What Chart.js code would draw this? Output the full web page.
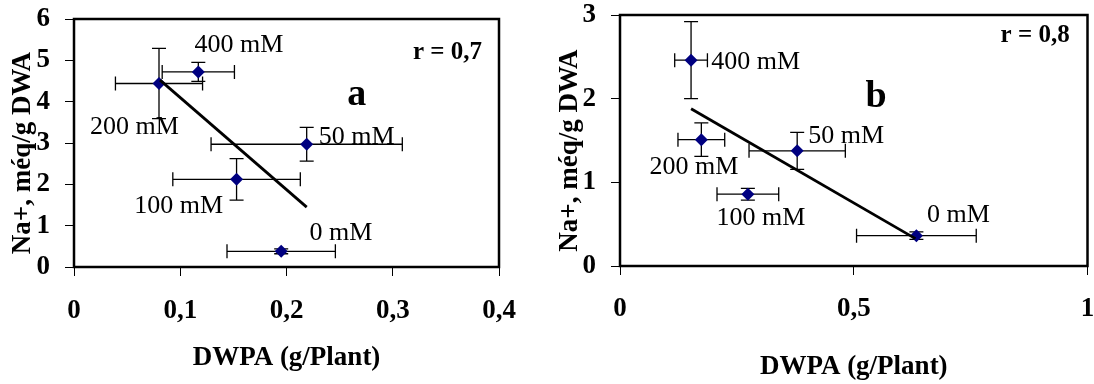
<!DOCTYPE html>
<html>
<head>
<meta charset="utf-8">
<script src="https://cdn.jsdelivr.net/npm/chart.js@4.4.1/dist/chart.umd.min.js"></script>
<style>
  html, body { margin: 0; padding: 0; background: #fff; }
  .wrap { position: relative; width: 1094px; height: 384px; overflow: hidden; }
  #chartA { position: absolute; left: 0; top: 0; }
  #chartB { position: absolute; left: 540px; top: 0; }
</style>
</head>
<body>
<div class="wrap">
  <canvas id="chartA" width="540" height="384"></canvas>
  <canvas id="chartB" width="554" height="384"></canvas>
</div>
<script>
// ===== data
const treatments = ['0 mM', '50 mM', '100 mM', '200 mM', '400 mM'];

// panel a
const dwpaA    = [0.195, 0.219, 0.153, 0.080, 0.117];
const dwpaErrA = [0.051, 0.090, 0.060, 0.041, 0.034];
const naA      = [0.38, 2.97, 2.12, 4.44, 4.72];
const naErrA   = [0.06, 0.41, 0.50, 0.85, 0.23];
const trendXA  = [0.081, 0.219];
const trendYA  = [4.52, 1.45];
const xTicksA  = ['0', '0,1', '0,2', '0,3', '0,4'];
const yTicksA  = ['0', '1', '2', '3', '4', '5', '6'];

// panel b
const dwpaB    = [0.634, 0.379, 0.2735, 0.174, 0.152];
const dwpaErrB = [0.128, 0.103, 0.066, 0.050, 0.035];
const naB      = [0.363, 1.376, 0.858, 1.51, 2.46];
const naErrB   = [0.045, 0.22, 0.07, 0.20, 0.46];
const trendXB  = [0.152, 0.632];
const trendYB  = [1.879, 0.327];
const xTicksB  = ['0', '0,5', '1'];
const yTicksB  = ['0', '1', '2', '3'];

const SERIF = "'Liberation Serif', 'Times New Roman', serif";

// where the treatment labels sit (data units), same order as treatments
const labelPosA = [[0.2513, 0.83], [0.266, 3.15], [0.0985, 1.48], [0.0569, 3.39], [0.1553, 5.37]];
const labelPosB = [[0.724, 0.606], [0.4838, 1.551], [0.3015, 0.566], [0.158, 1.184], [0.290, 2.44]];

// error bars + frame + text, drawn with the chart's own scales
function panelPlugin(p) {
  return {
    id: 'panel',
    beforeDatasetsDraw(chart) {
      const { ctx, scales: { x, y } } = chart;
      const cap = 7;
      ctx.save();
      ctx.strokeStyle = '#000';
      ctx.lineWidth = 1.3;
      p.xs.forEach((xv, i) => {
        const yv = p.ys[i];
        const px = x.getPixelForValue(xv), py = y.getPixelForValue(yv);
        const x1 = x.getPixelForValue(xv - p.xErr[i]), x2 = x.getPixelForValue(xv + p.xErr[i]);
        const y1 = y.getPixelForValue(yv - p.yErr[i]), y2 = y.getPixelForValue(yv + p.yErr[i]);
        ctx.beginPath();
        ctx.moveTo(x1, py); ctx.lineTo(x2, py);
        ctx.moveTo(x1, py - cap); ctx.lineTo(x1, py + cap);
        ctx.moveTo(x2, py - cap); ctx.lineTo(x2, py + cap);
        ctx.moveTo(px, y1); ctx.lineTo(px, y2);
        ctx.moveTo(px - cap, y1); ctx.lineTo(px + cap, y1);
        ctx.moveTo(px - cap, y2); ctx.lineTo(px + cap, y2);
        ctx.stroke();
      });
      ctx.restore();
    },
    afterDatasetsDraw(chart) {
      const { ctx, chartArea: a, scales: { x, y } } = chart;
      ctx.save();
      ctx.strokeStyle = '#000';
      ctx.lineWidth = 2.5;
      ctx.strokeRect(a.left, a.top, a.right - a.left, a.bottom - a.top);

      ctx.fillStyle = '#000';
      ctx.textAlign = 'center';
      ctx.textBaseline = 'middle';
      ctx.font = `26px ${SERIF}`;
      treatments.forEach((t, i) => {
        const [lx, ly] = p.labelPos[i];
        ctx.fillText(t, x.getPixelForValue(lx), y.getPixelForValue(ly));
      });
      ctx.font = `bold 25px ${SERIF}`;
      ctx.fillText(p.rText, x.getPixelForValue(p.rPos[0]), y.getPixelForValue(p.rPos[1]));
      ctx.font = `bold 38px ${SERIF}`;
      ctx.fillText(p.tag, x.getPixelForValue(p.tagPos[0]), y.getPixelForValue(p.tagPos[1]));
      ctx.restore();
    }
  };
}

function makePanel(canvas, p) {
  const tickFont = { family: SERIF, size: 27, weight: 'bold' };
  const titleFont = { family: SERIF, size: 27, weight: 'bold' };
  const grid = { drawOnChartArea: false, drawTicks: true, tickLength: 9, color: '#000', lineWidth: 1 };

  new Chart(canvas.getContext('2d'), {
    data: {
      datasets: [
        {
          type: 'line',
          data: p.trendX.map((v, i) => ({ x: v, y: p.trendY[i] })),
          borderColor: '#000',
          borderWidth: 2.8,
          pointRadius: 0,
          fill: false,
          order: 0
        },
        {
          type: 'scatter',
          data: p.xs.map((v, i) => ({ x: v, y: p.ys[i] })),
          pointStyle: 'rectRot',
          pointRadius: 6.5,
          backgroundColor: '#000080',
          borderColor: '#000080',
          borderWidth: 0,
          order: 1
        }
      ]
    },
    options: {
      responsive: false,
      animation: false,
      layout: { padding: p.padding },
      plugins: { legend: { display: false }, tooltip: { enabled: false } },
      scales: {
        x: {
          type: 'linear',
          min: 0, max: p.xMax,
          border: { display: false },
          grid,
          afterFit: s => { s.height = p.xAxisH; s.paddingLeft = 0; s.paddingRight = 0; },
          ticks: {
            stepSize: p.xStep, color: '#000', font: tickFont, padding: p.xTickPad,
            maxRotation: 0, autoSkip: false,
            callback: (v, i) => p.xTicks[i]
          },
          title: { display: true, text: 'DWPA (g/Plant)', color: '#000', font: titleFont,
                   padding: { top: 0, bottom: p.xTitlePad } }
        },
        y: {
          type: 'linear',
          min: 0, max: p.yMax,
          border: { display: false },
          grid,
          afterFit: s => { s.width = p.yAxisW; s.paddingTop = 0; s.paddingBottom = 0; },
          ticks: {
            stepSize: 1, color: '#000', font: tickFont, padding: p.yTickPad,
            callback: (v, i) => p.yTicks[i]
          },
          // trailing spaces nudge the centred title a little lower, as in the original
          title: { display: true, text: 'Na+, méq/g DWA   ', color: '#000', font: titleFont,
                   padding: { top: p.yTitlePad, bottom: 0 } }
        }
      }
    },
    plugins: [panelPlugin(p)]
  });
}

makePanel(document.getElementById('chartA'), {
  xs: dwpaA, ys: naA, xErr: dwpaErrA, yErr: naErrA,
  trendX: trendXA, trendY: trendYA,
  xTicks: xTicksA, yTicks: yTicksA, xMax: 0.4, xStep: 0.1, yMax: 6,
  labelPos: labelPosA, rText: 'r = 0,7', rPos: [0.3515, 5.2], tag: 'a', tagPos: [0.266, 4.16],
  padding: { top: 19, right: 41, bottom: 0, left: 0 },
  xAxisH: 117, yAxisW: 74, xTickPad: 19, yTickPad: 15, xTitlePad: 10, yTitlePad: 7
});

makePanel(document.getElementById('chartB'), {
  xs: dwpaB, ys: naB, xErr: dwpaErrB, yErr: naErrB,
  trendX: trendXB, trendY: trendYB,
  xTicks: xTicksB, yTicks: yTicksB, xMax: 1, xStep: 0.5, yMax: 3,
  labelPos: labelPosB, rText: 'r = 0,8', rPos: [0.888, 2.76], tag: 'b', tagPos: [0.548, 2.02],
  padding: { top: 15, right: 6, bottom: 0, left: 0 },
  xAxisH: 118, yAxisW: 80, xTickPad: 18, yTickPad: 15, xTitlePad: 1, yTitlePad: 14
});
</script>
</body>
</html>
